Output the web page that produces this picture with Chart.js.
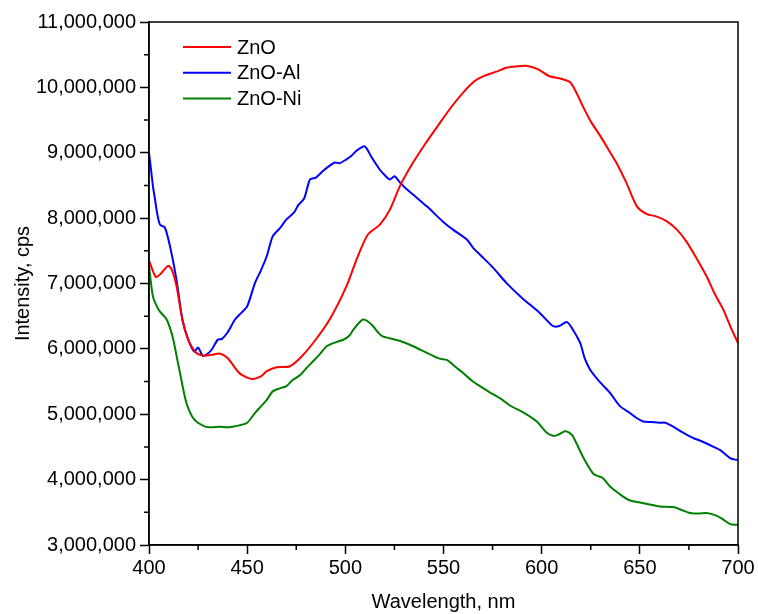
<!DOCTYPE html>
<html lang="en">
  <head>
    <meta charset="UTF-8" />
    <title>PL spectra</title>
    <script src="https://cdn.jsdelivr.net/npm/chart.js@4"></script>
    <style>
      body { margin: 0; background: #fff; }
      #wrap { width: 758px; height: 614px; }
    </style>
  </head>
  <body>
    <div id="wrap"><canvas id="myChart" width="758" height="614"></canvas></div>
    <script>
      // Wavelength (nm) and intensity (millions of cps)
      var znoX = [400,403.5,406,409.7,411.5,414,417,420,424,427.5,432,436,440,446,450,453,457,460,465,471.5,477,483.6,492,500.6,506.4,511.5,517.6,522.7,527.8,534.5,541,548,554,560,566,571,577,582,587,592,598,604,609,614.5,618,621,625,630,634,638,643,648.5,653.6,658,663.8,669,674,679,684,688,692.5,696,700];
      var znoY = [7.35,7.10,7.15,7.27,7.22,6.96,6.45,6.14,5.94,5.90,5.91,5.93,5.86,5.63,5.56,5.54,5.58,5.66,5.72,5.73,5.86,6.09,6.45,6.96,7.42,7.75,7.90,8.13,8.49,8.85,9.15,9.45,9.70,9.92,10.10,10.18,10.24,10.30,10.32,10.33,10.28,10.17,10.14,10.08,9.90,9.71,9.48,9.25,9.05,8.85,8.55,8.18,8.06,8.03,7.95,7.82,7.63,7.38,7.11,6.85,6.60,6.35,6.09];

      var alX = [400,401,402,403,404,405.6,408,410.7,414,417,420,423,425,427.5,430,432,435,437,440,443.8,447,450,454,457,460,463,466.8,470,474,476,479,482,485,488.6,491,494.7,497,500.6,503,505.7,509.5,511,513,517.6,520,522.7,525,528,531,534.5,541.5,549.6,555,562,565,568.6,575,582,590,599,605.7,609,612.8,616,619.6,622,624.7,628,631,635,640,645,648,651.7,656,660,663,667,672,677,682,687,691,696,698,700];
      var alY = [9.00,8.75,8.49,8.30,8.10,7.90,7.86,7.57,7.06,6.45,6.14,5.96,6.02,5.89,5.93,5.99,6.14,6.15,6.25,6.45,6.55,6.65,7.01,7.20,7.42,7.72,7.85,7.98,8.09,8.20,8.30,8.59,8.62,8.72,8.78,8.85,8.84,8.90,8.95,9.03,9.10,9.06,8.95,8.74,8.66,8.59,8.64,8.54,8.45,8.36,8.18,7.95,7.82,7.67,7.55,7.44,7.25,7.01,6.78,6.55,6.35,6.35,6.41,6.29,6.09,5.85,5.68,5.55,5.45,5.32,5.12,5.02,4.95,4.89,4.88,4.87,4.87,4.81,4.72,4.64,4.58,4.51,4.45,4.33,4.31,4.30];

      var niX = [400,402,404,405.6,409,412,414,415.8,419,423,428.6,432,436,440,442.6,446,450,454,457,460,463,467,470,473,477,480,483.6,487,490.5,495,499,502,504,507,509,511,514,517,519,523,528,534.5,541.5,548,551.7,556.7,560,565,568.6,573.7,575,580,584,590.6,597.5,602.5,605.7,608,611.9,614,616,621,626,628,631,635,641.5,645,650,655,660,667,671,675.6,680,684,689,692,696,700];
      var niY = [7.26,6.80,6.65,6.57,6.45,6.19,5.90,5.63,5.18,4.92,4.81,4.80,4.81,4.80,4.81,4.83,4.87,5.02,5.12,5.22,5.35,5.40,5.43,5.52,5.60,5.70,5.81,5.92,6.04,6.10,6.14,6.20,6.29,6.40,6.45,6.43,6.35,6.24,6.19,6.16,6.12,6.04,5.94,5.85,5.83,5.71,5.63,5.50,5.43,5.33,5.31,5.22,5.13,5.03,4.89,4.72,4.67,4.68,4.74,4.72,4.66,4.35,4.10,4.06,4.03,3.89,3.74,3.68,3.65,3.62,3.59,3.58,3.54,3.49,3.48,3.49,3.45,3.40,3.32,3.31];

      var labels = ["ZnO", "ZnO-Al", "ZnO-Ni"];
      var colors = ["#ff0000", "#0000ff", "#008000"];
      var xTicks = [400, 450, 500, 550, 600, 650, 700];

      function puntos(xs, ys) {
        var data = [];
        for (var i = 0; i < xs.length; i++) {
          data.push({ x: xs[i], y: ys[i] * 1000000 });
        }
        return data;
      }

      var fuente = "'Liberation Sans', Arial, sans-serif";

      // caja, ticks menores y leyenda dentro del area
      var extras = {
        id: "extras",
        afterDraw: function (chart) {
          var ctx = chart.ctx;
          var a = chart.chartArea;
          var xs = chart.scales.x;
          var ys = chart.scales.y;
          ctx.save();
          ctx.strokeStyle = "#000";
          ctx.lineWidth = 1.5;
          ctx.strokeRect(a.left, a.top, a.right - a.left, a.bottom - a.top);
          ctx.beginPath();
          for (var v = 425; v < 700; v += 50) {
            var px = xs.getPixelForValue(v);
            ctx.moveTo(px, a.bottom);
            ctx.lineTo(px, a.bottom + 5);
          }
          for (var w = 3500000; w < 11000000; w += 1000000) {
            var py = ys.getPixelForValue(w);
            ctx.moveTo(a.left, py);
            ctx.lineTo(a.left - 5, py);
          }
          ctx.stroke();

          ctx.font = "20px " + fuente;
          ctx.textBaseline = "middle";
          ctx.textAlign = "left";
          chart.data.datasets.forEach(function (ds, i) {
            var y = a.top + 25 + i * 25.7;
            ctx.strokeStyle = ds.borderColor;
            ctx.lineWidth = 2;
            ctx.beginPath();
            ctx.moveTo(a.left + 34, y);
            ctx.lineTo(a.left + 82, y);
            ctx.stroke();
            ctx.fillStyle = "#000";
            ctx.fillText(ds.label, a.left + 88, y + 1);
          });
          ctx.restore();
        },
      };

      var grafica = new Chart(document.getElementById("myChart"), {
        type: "line",
        data: {
          datasets: [
            { label: labels[0], data: puntos(znoX, znoY), borderColor: colors[0] },
            { label: labels[1], data: puntos(alX, alY), borderColor: colors[1] },
            { label: labels[2], data: puntos(niX, niY), borderColor: colors[2] },
          ],
        },
        options: {
          responsive: false,
          animation: false,
          layout: { padding: { top: 22, right: 20 } },
          elements: {
            point: { radius: 0 },
            line: { borderWidth: 2, tension: 0.25, fill: false },
          },
          plugins: { legend: { display: false }, tooltip: { enabled: false } },
          scales: {
            x: {
              type: "linear",
              min: 400,
              max: 700,
              afterBuildTicks: function (s) {
                s.ticks = xTicks.map(function (v) { return { value: v }; });
              },
              afterFit: function (s) { s.height = 69; },
              grid: { drawOnChartArea: false, tickLength: 9, color: "#000", tickWidth: 1.5 },
              border: { color: "#000", width: 1.5 },
              ticks: { color: "#000", padding: 2, maxRotation: 0, font: { family: fuente, size: 20 } },
              title: { display: true, text: "Wavelength, nm", color: "#000", padding: { top: 2, bottom: 0 }, font: { family: fuente, size: 20 } },
            },
            y: {
              min: 3000000,
              max: 11000000,
              afterFit: function (s) { s.width = 149; },
              grid: { drawOnChartArea: false, tickLength: 9, color: "#000", tickWidth: 1.5 },
              border: { color: "#000", width: 1.5 },
              ticks: {
                stepSize: 1000000,
                color: "#000",
                padding: 4,
                font: { family: fuente, size: 20 },
                callback: function (v) { return v.toLocaleString("en-US"); },
              },
              title: { display: true, text: "Intensity, cps", color: "#000", padding: { top: 11, bottom: 0 }, font: { family: fuente, size: 20 } },
            },
          },
        },
        plugins: [extras],
      });
    </script>
  </body>
</html>
